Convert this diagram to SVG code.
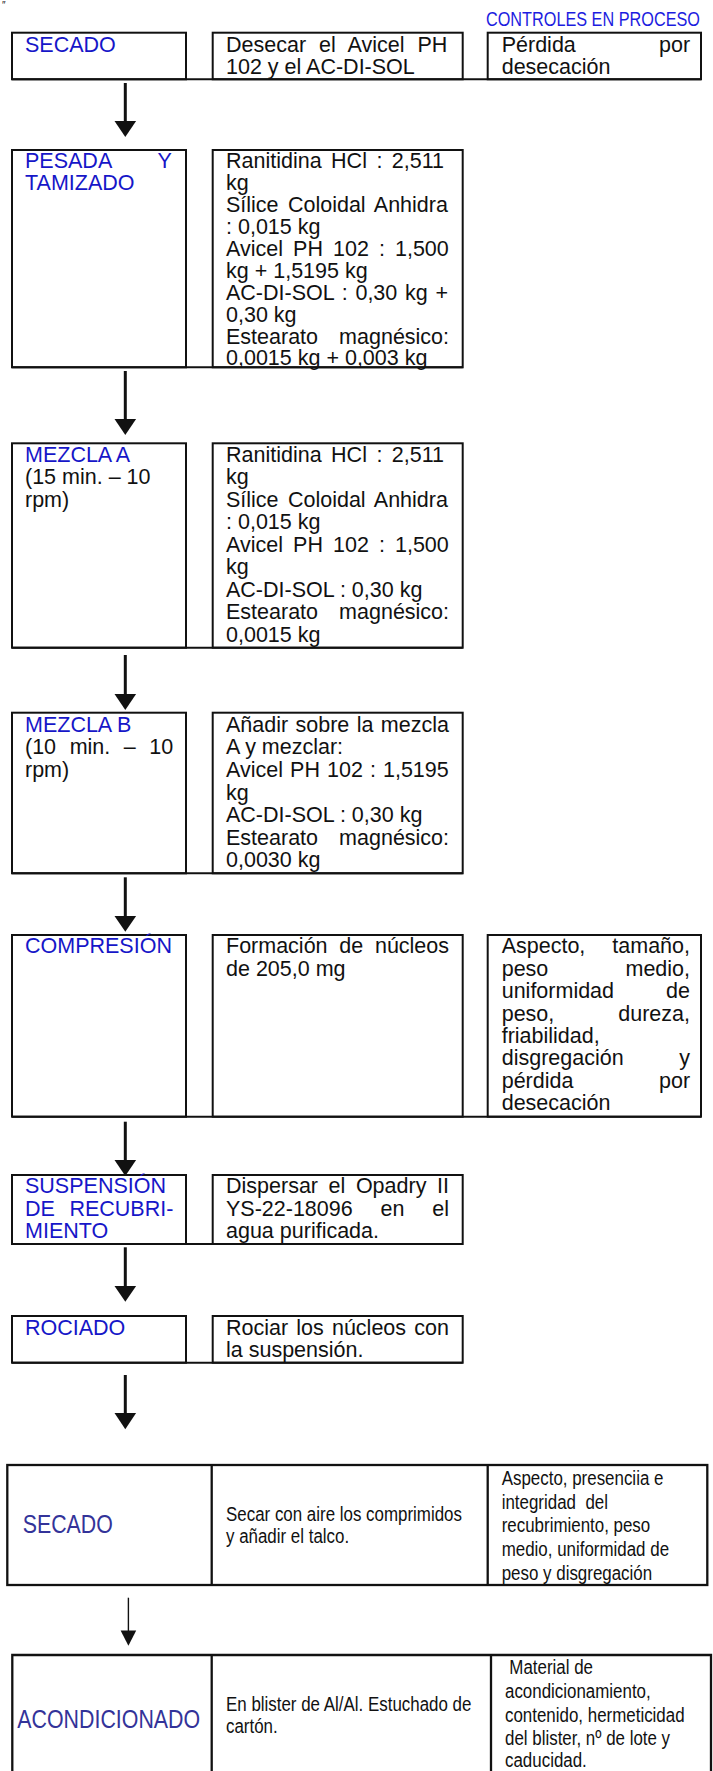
<svg xmlns="http://www.w3.org/2000/svg" width="713" height="1771" viewBox="0 0 713 1771">
<defs>
<style>
.box{fill:none;stroke:#111;stroke-width:2}
.tb{fill:none;stroke:#111;stroke-width:2.3}
.t{font-family:"Liberation Sans",Arial,sans-serif;font-size:21.5px;fill:#111}
.b{fill:#1616c8}
.n{font-family:"Liberation Sans",Arial,sans-serif;font-size:20px;fill:#111}
.nb{font-family:"Liberation Sans",Arial,sans-serif;font-size:26.5px;fill:#333399}
.hdr{font-family:"Liberation Sans",Arial,sans-serif;font-size:20px;fill:#1c1ce0}
.ln{stroke:#111;stroke-width:3}
.ah{fill:#111}
</style>
</defs>
<rect width="713" height="1771" fill="#fff"/>
<text x="2" y="9" class="t" style="font-size:10px">″</text>
<text class="hdr" transform="matrix(0.8125 0 0 1 486 26)">CONTROLES EN PROCESO</text>

<g id="row1-secado">
<rect class="box" x="12" y="32.7" width="174" height="46.6"/>
<rect class="box" x="212.7" y="32.7" width="250" height="46.6"/>
<rect class="box" x="487.7" y="32.7" width="213.3" height="46.6"/>
<line class="box" x1="12" y1="79.3" x2="701" y2="79.3"/>
<text class="t b" x="25" y="51.7">SECADO</text>
<text class="t" x="226" y="51.7" style="word-spacing:7px">Desecar el Avicel PH</text>
<text class="t" x="226" y="74">102 y el AC-DI-SOL</text>
<text class="t" x="501.7" y="51.7" style="word-spacing:77.2px">Pérdida por</text>
<text class="t" x="501.7" y="74">desecación</text>
</g>

<g id="row2-pesada">
<rect class="box" x="12" y="150" width="174" height="217.3"/>
<rect class="box" x="212.7" y="150" width="250" height="217.3"/>
<line class="box" x1="12" y1="367.3" x2="462.7" y2="367.3"/>
<text class="t b" x="25" y="168" style="word-spacing:40.8px">PESADA Y</text>
<text class="t b" x="25" y="190">TAMIZADO</text>
<text class="t" x="226" y="168" style="word-spacing:3.5px">Ranitidina HCl : 2,511</text>
<text class="t" x="226" y="190">kg</text>
<text class="t" x="226" y="212" style="word-spacing:3.4px">Sílice Coloidal Anhidra</text>
<text class="t" x="226" y="234">: 0,015 kg</text>
<text class="t" x="226" y="256" style="word-spacing:4.1px">Avicel PH 102 : 1,500</text>
<text class="t" x="226" y="278">kg + 1,5195 kg</text>
<text class="t" x="226" y="300" style="word-spacing:1.8px">AC-DI-SOL : 0,30 kg +</text>
<text class="t" x="226" y="322">0,30 kg</text>
<text class="t" x="226" y="344" style="word-spacing:15.1px">Estearato magnésico:</text>
<text class="t" x="226" y="365">0,0015 kg + 0,003 kg</text>
</g>

<g id="row3-mezcla-a">
<rect class="box" x="12" y="443.3" width="174" height="204.4"/>
<rect class="box" x="212.7" y="443.3" width="250" height="204.4"/>
<line class="box" x1="12" y1="647.7" x2="462.7" y2="647.7"/>
<text class="t b" x="25" y="461.7">MEZCLA A</text>
<text class="t" x="25" y="484.2">(15 min. – 10</text>
<text class="t" x="25" y="506.7">rpm)</text>
<text class="t" x="226" y="461.7" style="word-spacing:3.5px">Ranitidina HCl : 2,511</text>
<text class="t" x="226" y="484.2">kg</text>
<text class="t" x="226" y="506.7" style="word-spacing:3.4px">Sílice Coloidal Anhidra</text>
<text class="t" x="226" y="529.2">: 0,015 kg</text>
<text class="t" x="226" y="551.7" style="word-spacing:4.1px">Avicel PH 102 : 1,500</text>
<text class="t" x="226" y="574.2">kg</text>
<text class="t" x="226" y="596.7">AC-DI-SOL : 0,30 kg</text>
<text class="t" x="226" y="619.2" style="word-spacing:15.1px">Estearato magnésico:</text>
<text class="t" x="226" y="641.7">0,0015 kg</text>
</g>

<g id="row4-mezcla-b">
<rect class="box" x="12" y="712.7" width="174" height="160.6"/>
<rect class="box" x="212.7" y="712.7" width="250" height="160.6"/>
<line class="box" x1="12" y1="873.3" x2="462.7" y2="873.3"/>
<text class="t b" x="25" y="731.7">MEZCLA B</text>
<text class="t" x="25" y="754.3" style="word-spacing:7.6px">(10 min. – 10</text>
<text class="t" x="25" y="776.9">rpm)</text>
<text class="t" x="226" y="731.7" style="word-spacing:1.4px">Añadir sobre la mezcla</text>
<text class="t" x="226" y="754.3">A y mezclar:</text>
<text class="t" x="226" y="776.9" style="word-spacing:1.1px">Avicel PH 102 : 1,5195</text>
<text class="t" x="226" y="799.5">kg</text>
<text class="t" x="226" y="822.1">AC-DI-SOL : 0,30 kg</text>
<text class="t" x="226" y="844.7" style="word-spacing:15.1px">Estearato magnésico:</text>
<text class="t" x="226" y="867.3">0,0030 kg</text>
</g>

<g id="row5-compresion">
<rect class="box" x="12" y="935" width="174" height="181.7"/>
<rect class="box" x="212.7" y="935" width="250" height="181.7"/>
<rect class="box" x="487.7" y="935" width="213.3" height="181.7"/>
<line class="box" x1="12" y1="1116.7" x2="701" y2="1116.7"/>
<text class="t b" x="25" y="953.3">COMPRESIÓN</text>
<text class="t" x="226" y="953.3" style="word-spacing:5.75px">Formación de núcleos</text>
<text class="t" x="226" y="975.7">de 205,0 mg</text>
<text class="t" x="501.7" y="953.3" style="word-spacing:21px">Aspecto, tamaño,</text>
<text class="t" x="501.7" y="975.7" style="word-spacing:71.2px">peso medio,</text>
<text class="t" x="501.7" y="998.1" style="word-spacing:46.1px">uniformidad de</text>
<text class="t" x="501.7" y="1020.5" style="word-spacing:58px">peso, dureza,</text>
<text class="t" x="501.7" y="1042.9">friabilidad,</text>
<text class="t" x="501.7" y="1065.3" style="word-spacing:49.7px">disgregación y</text>
<text class="t" x="501.7" y="1087.7" style="word-spacing:79.6px">pérdida por</text>
<text class="t" x="501.7" y="1110.1">desecación</text>
</g>

<g id="row6-suspension">
<rect class="box" x="12" y="1175" width="174" height="69"/>
<rect class="box" x="212.7" y="1175" width="250" height="69"/>
<line class="box" x1="12" y1="1244" x2="462.7" y2="1244"/>
<text class="t b" x="25" y="1193.3">SUSPENSIÓN</text>
<text class="t b" x="25" y="1215.7" style="word-spacing:8.55px">DE RECUBRI-</text>
<text class="t b" x="25" y="1238.1">MIENTO</text>
<text class="t" x="226" y="1193.3" style="word-spacing:4.6px">Dispersar el Opadry II</text>
<text class="t" x="226" y="1215.7" style="word-spacing:21.9px">YS-22-18096 en el</text>
<text class="t" x="226" y="1238.1">agua purificada.</text>
</g>

<g id="row7-rociado">
<rect class="box" x="12" y="1316" width="174" height="46.7"/>
<rect class="box" x="212.7" y="1316" width="250" height="46.7"/>
<line class="box" x1="12" y1="1362.7" x2="462.7" y2="1362.7"/>
<text class="t b" x="25" y="1335">ROCIADO</text>
<text class="t" x="226" y="1335" style="word-spacing:2.2px">Rociar los núcleos con</text>
<text class="t" x="226" y="1357.4">la suspensión.</text>
</g>

<g id="row8-secado">
<rect class="tb" x="7.3" y="1465" width="700" height="120"/>
<line class="tb" x1="211.7" y1="1465" x2="211.7" y2="1585"/>
<line class="tb" x1="487.7" y1="1465" x2="487.7" y2="1585"/>
<text class="nb" transform="matrix(0.805 0 0 1 22.7 1533.3)">SECADO</text>
<text class="n" transform="matrix(0.846 0 0 1 226 1520.7)">Secar con aire los comprimidos</text>
<text class="n" transform="matrix(0.846 0 0 1 226 1543.3)">y añadir el talco.</text>
<text class="n" transform="matrix(0.846 0 0 1 501.7 1485)">Aspecto, presenciia e</text>
<text class="n" transform="matrix(0.846 0 0 1 501.7 1508.7)" xml:space="preserve">integridad  del</text>
<text class="n" transform="matrix(0.846 0 0 1 501.7 1532.4)">recubrimiento, peso</text>
<text class="n" transform="matrix(0.846 0 0 1 501.7 1556.1)">medio, uniformidad de</text>
<text class="n" transform="matrix(0.846 0 0 1 501.7 1579.8)">peso y disgregación</text>
</g>

<g id="row9-acondicionado">
<path class="tb" d="M12.3,1775 V1655 H711 V1775"/>
<line class="tb" x1="211.7" y1="1655" x2="211.7" y2="1775"/>
<line class="tb" x1="491" y1="1655" x2="491" y2="1775"/>
<text class="nb" transform="matrix(0.807 0 0 1 17.3 1728.3)">ACONDICIONADO</text>
<text class="n" transform="matrix(0.846 0 0 1 226 1710.7)">En blister de Al/Al. Estuchado de</text>
<text class="n" transform="matrix(0.846 0 0 1 226 1733.3)">cartón.</text>
<text class="n" transform="matrix(0.846 0 0 1 509.3 1674)">Material de</text>
<text class="n" transform="matrix(0.846 0 0 1 505 1698.3)">acondicionamiento,</text>
<text class="n" transform="matrix(0.846 0 0 1 505 1721.7)">contenido, hermeticidad</text>
<text class="n" transform="matrix(0.846 0 0 1 505 1745)">del blister, nº de lote y</text>
<text class="n" transform="matrix(0.846 0 0 1 505 1766.7)">caducidad.</text>
</g>

<g id="connectors">
<line class="ln" x1="125.3" y1="83" x2="125.3" y2="124"/>
<polygon class="ah" points="114.5,121 136.1,121 125.3,137"/>
<line class="ln" x1="125.3" y1="371" x2="125.3" y2="422"/>
<polygon class="ah" points="114.5,419 136.1,419 125.3,435"/>
<line class="ln" x1="125.3" y1="655" x2="125.3" y2="697"/>
<polygon class="ah" points="114.5,694 136.1,694 125.3,710"/>
<line class="ln" x1="125.3" y1="877.3" x2="125.3" y2="919"/>
<polygon class="ah" points="114.5,916 136.1,916 125.3,931.7"/>
<line class="ln" x1="125.3" y1="1121.7" x2="125.3" y2="1163"/>
<polygon class="ah" points="114.5,1160 136.1,1160 125.3,1176"/>
<line class="ln" x1="125.3" y1="1247.3" x2="125.3" y2="1289"/>
<polygon class="ah" points="114.5,1286 136.1,1286 125.3,1301.7"/>
<line class="ln" x1="125.3" y1="1375" x2="125.3" y2="1416"/>
<polygon class="ah" points="114.5,1413 136.1,1413 125.3,1429.3"/>
<line x1="128.4" y1="1597.7" x2="128.4" y2="1632" stroke="#111" stroke-width="1.4"/>
<polygon class="ah" points="120.6,1630.4 136.2,1630.4 128.4,1645.8"/>
</g>
</svg>
